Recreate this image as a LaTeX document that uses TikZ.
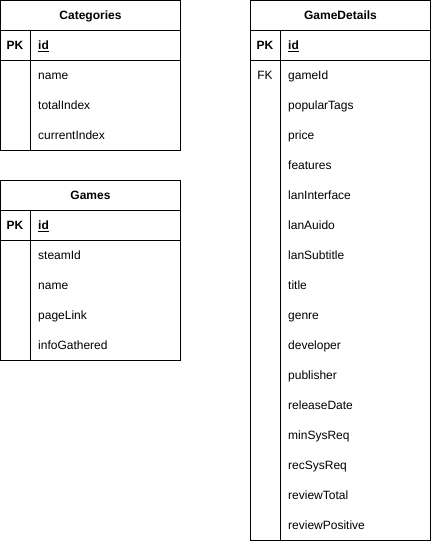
\documentclass[tikz,border=0pt]{standalone}
\usepackage{fontspec}
\setmainfont{Liberation Sans}
\begin{document}
\begin{tikzpicture}[x=1pt,y=-1pt,
  tbl/.style={draw=black,line width=1pt,inner sep=0pt,outer sep=0pt,minimum width=180pt,anchor=north west},
  sep/.style={draw=black,line width=1pt},
  hdr/.style={font=\fontsize{12}{14}\selectfont\bfseries,inner sep=0pt,anchor=base},
  key/.style={font=\fontsize{12}{14}\selectfont\bfseries,inner sep=0pt,anchor=base},
  fk/.style={font=\fontsize{12}{14}\selectfont,inner sep=0pt,anchor=base},
  fld/.style={font=\fontsize{12}{14}\selectfont,inner sep=0pt,anchor=base west}]
\useasboundingbox (0,0) rectangle (431,541);
% Categories
\node[tbl,minimum height=150pt] (cat) at (0.5,0.5) {};
\draw[sep] (0.5,30.5) -- (180.5,30.5);
\draw[sep] (0.5,60.5) -- (180.5,60.5);
\draw[sep] (30.5,30.5) -- (30.5,150.5);
\node[hdr] (cath) at (90.5,19.8) {Categories};
\node[key] (catpk) at (15,49.8) {PK};
\node[fld] (catid) at (38,49.8) {\bfseries\underline{id}};
\node[fld] (cat1) at (38,79.8) {name};
\node[fld] (cat2) at (38,109.8) {totalIndex};
\node[fld] (cat3) at (38,139.8) {currentIndex};
% Games
\node[tbl,minimum height=180pt] (gam) at (0.5,180.5) {};
\draw[sep] (0.5,210.5) -- (180.5,210.5);
\draw[sep] (0.5,240.5) -- (180.5,240.5);
\draw[sep] (30.5,210.5) -- (30.5,360.5);
\node[hdr] (gamh) at (90.5,199.8) {Games};
\node[key] (gampk) at (15,229.8) {PK};
\node[fld] (gamid) at (38,229.8) {\bfseries\underline{id}};
\node[fld] (gam1) at (38,259.8) {steamId};
\node[fld] (gam2) at (38,289.8) {name};
\node[fld] (gam3) at (38,319.8) {pageLink};
\node[fld] (gam4) at (38,349.8) {infoGathered};
% GameDetails
\node[tbl,minimum height=540pt] (gd) at (250.5,0.5) {};
\draw[sep] (250.5,30.5) -- (430.5,30.5);
\draw[sep] (250.5,60.5) -- (430.5,60.5);
\draw[sep] (280.5,30.5) -- (280.5,540.5);
\node[hdr] (gdh) at (340.5,19.8) {GameDetails};
\node[key] (gdpk) at (265,49.8) {PK};
\node[fld] (gdid) at (288,49.8) {\bfseries\underline{id}};
\node[fk] (gdfk) at (265,79.8) {FK};
\foreach \t [count=\i from 0] in {gameId,popularTags,price,features,lanInterface,lanAuido,lanSubtitle,title,genre,developer,publisher,releaseDate,minSysReq,recSysReq,reviewTotal,reviewPositive}
  \node[fld] (gdf\i) at (288,79.8+30*\i) {\t};
\end{tikzpicture}
\end{document}
